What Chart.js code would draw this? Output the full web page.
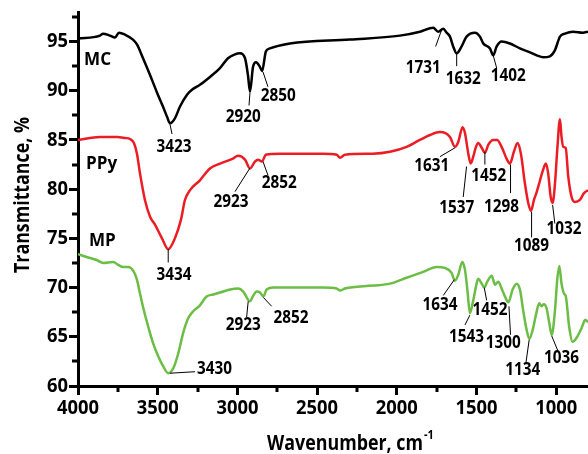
<!DOCTYPE html>
<html>
<head>
<meta charset="utf-8">
<script src="https://cdn.jsdelivr.net/npm/chart.js@4.4.1/dist/chart.umd.min.js"></script>
<style>
  html, body { margin: 0; padding: 0; background: #fff; }
  #wrap { width: 588px; height: 454px; position: relative; }
</style>
</head>
<body>
<div id="wrap"><canvas id="ftir" width="588" height="454"></canvas></div>
<script>
// espectros (numero de onda en cm-1, transmitancia en %)
const mcWave = [4000, 3862, 3843, 3800, 3768, 3743, 3705, 3655, 3630, 3592, 3548, 3504, 3467, 3440, 3423, 3392, 3360, 3316, 3285, 3235, 3172, 3109, 3059, 3015, 2984, 2952, 2933, 2921, 2902, 2883, 2858, 2845, 2821, 2796, 2670, 2294, 1980, 1854, 1771, 1740, 1708, 1687, 1666, 1646, 1624, 1593, 1562, 1509, 1478, 1457, 1415, 1395, 1373, 1342, 1290, 1227, 1164, 1122, 1081, 1039, 1008, 976, 945, 894, 832, 800];
const mcT = [95.3, 95.6, 95.8, 95.6, 95.4, 95.9, 95.7, 95.2, 94.7, 93.3, 91.6, 89.8, 88.4, 87.3, 86.7, 87.2, 88.4, 89.6, 90.1, 90.6, 91.4, 92.3, 93.3, 93.7, 93.8, 93.3, 91.5, 89.9, 92.4, 92.9, 92.4, 92.0, 94.0, 94.3, 94.8, 95.2, 95.6, 96.0, 96.4, 96.0, 96.3, 95.9, 95.5, 94.5, 93.8, 94.5, 95.5, 95.9, 95.5, 94.8, 94.3, 93.6, 94.5, 95.0, 94.8, 94.3, 93.9, 93.6, 93.4, 93.5, 94.1, 95.5, 95.8, 96.0, 95.9, 96.0];

const ppyWave = [4000, 3862, 3755, 3705, 3674, 3649, 3630, 3611, 3580, 3548, 3517, 3473, 3434, 3392, 3354, 3329, 3297, 3235, 3172, 3109, 3028, 2996, 2952, 2921, 2890, 2871, 2846, 2821, 2733, 2463, 2377, 2356, 2325, 2150, 2043, 1938, 1855, 1792, 1729, 1666, 1635, 1614, 1587, 1572, 1551, 1536, 1520, 1503, 1489, 1467, 1447, 1426, 1395, 1370, 1342, 1311, 1290, 1265, 1242, 1221, 1196, 1175, 1158, 1139, 1122, 1106, 1085, 1064, 1050, 1034, 1022, 1007, 993, 976, 966, 955, 940, 924, 903, 882, 851, 825, 800];
const ppyT = [85.0, 85.3, 85.3, 85.2, 85.1, 84.7, 83.6, 81.6, 78.9, 77.2, 76.4, 75.0, 73.9, 75.0, 76.9, 78.9, 79.9, 80.9, 82.1, 82.6, 83.1, 83.4, 83.0, 82.1, 82.8, 83.0, 82.8, 83.5, 83.6, 83.6, 83.5, 83.2, 83.5, 83.6, 83.8, 84.3, 85.0, 85.5, 85.8, 85.3, 84.3, 84.8, 86.3, 85.7, 83.6, 82.6, 83.3, 84.3, 84.7, 84.2, 83.7, 84.5, 85.0, 85.0, 84.3, 83.1, 82.6, 83.8, 84.7, 83.6, 80.6, 78.6, 77.8, 78.9, 79.7, 80.6, 81.8, 82.6, 81.6, 79.2, 78.6, 80.6, 84.0, 87.1, 85.3, 84.3, 84.2, 81.3, 79.2, 78.7, 78.9, 79.6, 79.9];

const mpWave = [4000, 3925, 3883, 3841, 3779, 3747, 3716, 3684, 3653, 3632, 3611, 3590, 3559, 3528, 3496, 3465, 3434, 3402, 3371, 3340, 3308, 3277, 3235, 3193, 3151, 3109, 3046, 2994, 2963, 2921, 2900, 2879, 2858, 2837, 2816, 2775, 2607, 2463, 2377, 2356, 2325, 2148, 2043, 1938, 1834, 1750, 1698, 1656, 1635, 1614, 1589, 1572, 1557, 1541, 1520, 1503, 1489, 1467, 1451, 1432, 1404, 1384, 1363, 1342, 1321, 1300, 1273, 1248, 1227, 1206, 1185, 1168, 1147, 1127, 1106, 1091, 1077, 1060, 1043, 1028, 1007, 993, 980, 966, 951, 939, 918, 897, 872, 840, 818, 800];
const mpT = [73.4, 73.0, 72.8, 72.5, 72.6, 72.3, 72.1, 72.1, 71.7, 70.9, 69.4, 67.9, 66.0, 64.3, 63.0, 62.0, 61.3, 61.8, 63.3, 65.4, 66.9, 67.6, 68.2, 69.1, 69.3, 69.5, 69.8, 69.9, 69.6, 68.6, 69.2, 69.6, 69.5, 69.1, 69.8, 70.0, 70.0, 70.0, 69.9, 69.7, 69.9, 70.2, 70.4, 71.0, 71.6, 72.1, 72.0, 71.5, 70.7, 71.3, 72.6, 71.8, 69.8, 67.4, 68.7, 70.1, 70.9, 70.4, 70.0, 70.6, 71.2, 70.3, 70.6, 69.9, 69.1, 68.5, 69.8, 70.4, 69.8, 67.6, 65.7, 64.8, 65.7, 67.2, 68.4, 68.1, 68.3, 67.9, 66.4, 65.2, 67.7, 70.8, 72.2, 70.4, 69.4, 69.1, 66.0, 64.5, 64.9, 65.9, 66.7, 66.5];

const xTicks = [4000, 3500, 3000, 2500, 2000, 1500, 1000];
const yTicks = [60, 65, 70, 75, 80, 85, 90, 95];

// etiquetas de picos: texto, punta de la linea, final de la linea, posicion del texto (en unidades de datos)
const picos = [
  { t: 'MC', pos: [3962, 93.1], align: 'left' },
  { t: '3423', tip: [3423, 86.6], tail: [3410, 85.6], pos: [3398, 84.3] },
  { t: '2920', tip: [2921, 89.8], tail: [2927, 88.5], pos: [2963, 87.3] },
  { t: '2850', tip: [2839, 91.9], tail: [2808, 90.4], pos: [2743, 89.4] },
  { t: '1731', tip: [1718, 96.2], tail: [1756, 94.5], pos: [1834, 92.3] },
  { t: '1632', tip: [1624, 93.8], tail: [1624, 92.5], pos: [1583, 91.2] },
  { t: '1402', tip: [1395, 93.6], tail: [1373, 92.3], pos: [1300, 91.5] },

  { t: 'PPy', pos: [3950, 82.5], align: 'left' },
  { t: '3434', tip: [3434, 73.9], tail: [3434, 72.55], pos: [3398, 71.3] },
  { t: '2923', tip: [2921, 82.15], tail: [3015, 79.75], pos: [3040, 78.7] },
  { t: '2852', tip: [2839, 82.8], tail: [2808, 81.4], pos: [2737, 80.6] },
  { t: '1631', tip: [1635, 84.2], tail: [1729, 83.3], pos: [1781, 82.3] },
  { t: '1537', tip: [1562, 82.3], tail: [1583, 79.2], pos: [1624, 78.1] },
  { t: '1452', tip: [1447, 83.8], tail: [1447, 82.5], pos: [1422, 81.3] },
  { t: '1298', tip: [1286, 82.5], tail: [1286, 79.6], pos: [1342, 78.2] },
  { t: '1089', tip: [1154, 77.7], tail: [1154, 75.1], pos: [1154, 74.2] },
  { t: '1032', tip: [1022, 78.4], tail: [1008, 76.5], pos: [951, 75.9] },

  { t: 'MP', pos: [3931, 74.7], align: 'left' },
  { t: '3430', tip: [3423, 61.3], tail: [3266, 61.45], pos: [3253, 61.7], align: 'left' },
  { t: '2923', tip: [2932, 68.6], tail: [2942, 67.0], pos: [2963, 66.2] },
  { t: '2852', tip: [2837, 69.0], tail: [2785, 68.1], pos: [2664, 66.9] },
  { t: '1634', tip: [1639, 70.8], tail: [1708, 69.2], pos: [1729, 68.2] },
  { t: '1543', tip: [1541, 67.2], tail: [1572, 66.2], pos: [1562, 65.0] },
  { t: '1452', tip: [1451, 70.0], tail: [1436, 68.7], pos: [1415, 67.7] },
  { t: '1300', tip: [1296, 68.1], tail: [1286, 65.2], pos: [1332, 64.4] },
  { t: '1134', tip: [1169, 64.7], tail: [1190, 62.3], pos: [1210, 61.6] },
  { t: '1036', tip: [1028, 65.1], tail: [987, 63.5], pos: [966, 62.8] }
];

const fuente = "'Open Sans', 'Liberation Sans', sans-serif";

function puntos(xs, ys) {
  return xs.map((x, i) => ({ x: x, y: ys[i] }));
}

// factor de compresion horizontal para imitar la letra estrecha del original
function factor(ctx, muestra, ancho) {
  return ancho / ctx.measureText(muestra).width;
}

function texto(ctx, s, x, y, align, k) {
  ctx.save();
  ctx.translate(x, y);
  ctx.scale(k, 1);
  ctx.textAlign = align;
  ctx.fillText(s, 0, 0);
  ctx.restore();
}

// marcas menores, etiquetas de ejes, picos y titulos
const extras = {
  id: 'extras',
  afterDraw(chart) {
    const ctx = chart.ctx;
    const sx = chart.scales.x;
    const sy = chart.scales.y;
    const area = chart.chartArea;
    ctx.save();
    ctx.strokeStyle = '#000';
    ctx.fillStyle = '#000';
    ctx.lineWidth = 3;
    ctx.beginPath();
    for (let v = 3750; v > 800; v -= 500) {
      const px = Math.round(sx.getPixelForValue(v));
      ctx.moveTo(px, area.bottom);
      ctx.lineTo(px, area.bottom + 6);
    }
    for (let v = 62.5; v < 98; v += 5) {
      const py = Math.round(sy.getPixelForValue(v));
      ctx.moveTo(area.left, py);
      ctx.lineTo(area.left - 6, py);
    }
    ctx.stroke();

    ctx.textBaseline = 'middle';

    // numeros de los ejes
    ctx.font = 'bold 20px ' + fuente;
    let k = factor(ctx, '4000', 42);
    xTicks.forEach(v => texto(ctx, String(v), sx.getPixelForValue(v), area.bottom + 22, 'center', k));
    yTicks.forEach(v => texto(ctx, String(v), area.left - 10, sy.getPixelForValue(v), 'right', k));

    // picos
    ctx.lineWidth = 1;
    picos.forEach(p => {
      if (p.tip) {
        ctx.beginPath();
        ctx.moveTo(sx.getPixelForValue(p.tip[0]), sy.getPixelForValue(p.tip[1]));
        ctx.lineTo(sx.getPixelForValue(p.tail[0]), sy.getPixelForValue(p.tail[1]));
        ctx.stroke();
        ctx.font = 'bold 17px ' + fuente;
        k = factor(ctx, '3423', 35);
      } else {
        ctx.font = 'bold 17px ' + fuente;
        k = factor(ctx, 'MC', 27);
      }
      texto(ctx, p.t, sx.getPixelForValue(p.pos[0]), sy.getPixelForValue(p.pos[1]), p.align || 'center', k);
    });

    // titulo eje Y
    ctx.font = 'bold 21px ' + fuente;
    k = factor(ctx, 'Transmittance, %', 156);
    ctx.save();
    ctx.translate(23, 195);
    ctx.rotate(-Math.PI / 2);
    texto(ctx, 'Transmittance, %', 0, 0, 'center', k);
    ctx.restore();

    // titulo eje X con superindice
    const base = 'Wavenumber, cm';
    k = factor(ctx, base, 156);
    texto(ctx, base, 267, 444, 'left', k);
    ctx.font = 'bold 13px ' + fuente;
    texto(ctx, '-1', 424, 435, 'left', k);
    ctx.restore();
  }
};

const ctxFtir = document.getElementById('ftir').getContext('2d');
new Chart(ctxFtir, {
  type: 'line',
  data: {
    datasets: [
      { label: 'MC', data: puntos(mcWave, mcT), borderColor: '#000000' },
      { label: 'PPy', data: puntos(ppyWave, ppyT), borderColor: '#ec1c24' },
      { label: 'MP', data: puntos(mpWave, mpT), borderColor: '#6bbd45' }
    ]
  },
  options: {
    responsive: false,
    animation: false,
    devicePixelRatio: 1,
    layout: { padding: { top: 12, right: 0, left: 0, bottom: 0 } },
    elements: {
      point: { radius: 0 },
      line: { borderWidth: 2.5, cubicInterpolationMode: 'monotone', fill: false }
    },
    plugins: {
      legend: { display: false },
      tooltip: { enabled: false }
    },
    scales: {
      x: {
        type: 'linear',
        reverse: true,
        min: 800,
        max: 4000,
        afterBuildTicks: s => { s.ticks = xTicks.map(v => ({ value: v })); },
        afterFit: s => { s.height = 68; },
        border: { display: true, color: '#000', width: 3 },
        grid: { drawOnChartArea: false, drawTicks: true, tickLength: 9, tickWidth: 3, tickColor: '#000' },
        ticks: { display: false }
      },
      y: {
        min: 60,
        max: 98,
        afterBuildTicks: s => { s.ticks = yTicks.map(v => ({ value: v })); },
        afterFit: s => { s.width = 78; },
        border: { display: true, color: '#000', width: 3 },
        grid: { drawOnChartArea: false, drawTicks: true, tickLength: 9, tickWidth: 3, tickColor: '#000' },
        ticks: { display: false }
      }
    }
  },
  plugins: [extras]
});
</script>
</body>
</html>
